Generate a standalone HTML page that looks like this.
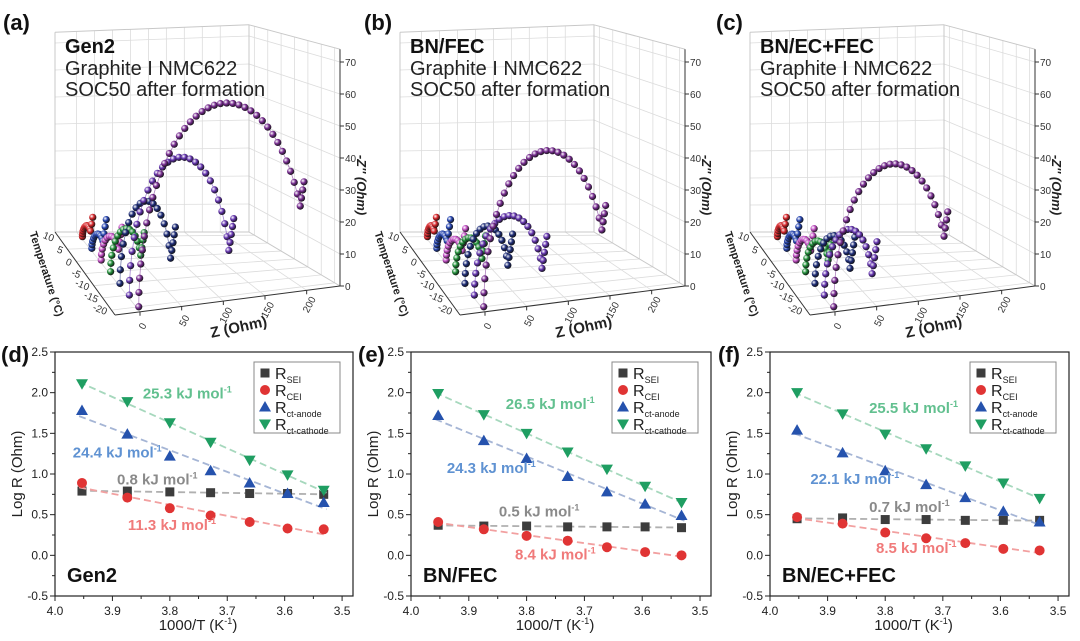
<!DOCTYPE html>
<html><head><meta charset="utf-8"><style>
html,body{margin:0;padding:0;background:#fff;}
svg{display:block;font-family:"Liberation Sans",Arial,sans-serif;}
</style></head><body>
<svg id="fig" width="1080" height="641" viewBox="0 0 1080 641">
<defs id="defs"></defs>
<rect width="1080" height="641" fill="#fff"/>
</svg>
<script>
// ===== Arrhenius data (bottom panels) =====
const invT = [3.953, 3.874, 3.800, 3.729, 3.661, 3.595, 3.532];
const xTicks = [4.0, 3.9, 3.8, 3.7, 3.6, 3.5];
const yTicks = [-0.5, 0.0, 0.5, 1.0, 1.5, 2.0, 2.5];
const gen2SEI = [0.79, 0.79, 0.78, 0.77, 0.76, 0.76, 0.75];
const gen2CEI = [0.89, 0.71, 0.58, 0.49, 0.41, 0.33, 0.32];
const gen2Anode = [1.78, 1.49, 1.22, 1.04, 0.89, 0.76, 0.65];
const gen2Cathode = [2.11, 1.89, 1.63, 1.39, 1.17, 0.99, 0.80];
const fecSEI = [0.37, 0.36, 0.36, 0.35, 0.35, 0.35, 0.34];
const fecCEI = [0.41, 0.32, 0.24, 0.18, 0.10, 0.04, 0.00];
const fecAnode = [1.72, 1.41, 1.19, 0.97, 0.78, 0.63, 0.49];
const fecCathode = [1.99, 1.73, 1.50, 1.27, 1.06, 0.85, 0.65];
const ecfSEI = [0.45, 0.46, 0.44, 0.44, 0.43, 0.43, 0.43];
const ecfCEI = [0.47, 0.39, 0.28, 0.21, 0.15, 0.08, 0.06];
const ecfAnode = [1.54, 1.26, 1.04, 0.87, 0.71, 0.54, 0.41];
const ecfCathode = [2.00, 1.74, 1.49, 1.31, 1.10, 0.89, 0.70];
const gen2Labels = ["25.3", "24.4", "0.8", "11.3"];
const fecLabels = ["26.5", "24.3", "0.5", "8.4"];
const ecfLabels = ["25.5", "22.1", "0.7", "8.5"];
// ===== Nyquist data (top panels): per temperature series =====
const temps = [10, 5, 0, -5, -10, -15, -20];
const gen2ArcD = [12, 16, 24, 40, 65, 125, 205];
const gen2ArcH = [4, 5, 8, 14, 26, 42, 60];
const fecArcD = [10, 15, 22, 35, 55, 85, 150];
const fecArcH = [4, 5, 7, 11, 18, 24, 46];
const ecfArcD = [10, 14, 20, 30, 45, 60, 140];
const ecfArcH = [4, 5, 7, 10, 15, 20, 42];
const arcEndDeg = [150, 150, 155, 160, 165, 165, 155];
const arcTail = [6, 7, 8, 8, 10, 10, 8];
const zTicks3d = [0, 10, 20, 30, 40, 50, 60, 70];
const xTicks3d = [0, 50, 100, 150, 200];

const NS = "http://www.w3.org/2000/svg";
const svg = document.getElementById("fig");
const defs = document.getElementById("defs");
function mk(tag, attrs, parent) {
  const e = document.createElementNS(NS, tag);
  for (const k in attrs) e.setAttribute(k, attrs[k]);
  (parent || svg).appendChild(e);
  return e;
}
function txt(s, x, y, attrs, parent) {
  const t = mk("text", Object.assign({x: x, y: y}, attrs), parent);
  t.textContent = s;
  return t;
}

// ---------- 3D panels ----------
const seriesColors = ["#d8262a", "#2544b0", "#c24fc4", "#22903a", "#1d2c78", "#6535b0", "#7a2e93"];
seriesColors.forEach((c, i) => {
  const g = mk("radialGradient", {id: "sph" + i, cx: "0.35", cy: "0.35", r: "0.7"}, defs);
  mk("stop", {offset: "0", "stop-color": "#ffffff", "stop-opacity": "0.85"}, g);
  mk("stop", {offset: "0.45", "stop-color": c}, g);
  mk("stop", {offset: "1", "stop-color": "#111"}, g);
});
const GA = [0, 232], GB = [194, 232], GC = [60, 315], GD = [285, 286];
const HA = 2.7, HB = 2.8, HC = 3.3, HD = 3.2;
const XMIN = -30, XMAX = 240, TBACK = 12, TFRONT = -22, ZTOP = 74;
function proj(L, X, T, Z) {
  const u = (X - XMIN) / (XMAX - XMIN), v = (TBACK - T) / (TBACK - TFRONT);
  const fx = (1 - v) * ((1 - u) * GA[0] + u * GB[0]) + v * ((1 - u) * GC[0] + u * GD[0]);
  const fy = (1 - v) * ((1 - u) * GA[1] + u * GB[1]) + v * ((1 - u) * GC[1] + u * GD[1]);
  const k = (1 - v) * ((1 - u) * HA + u * HB) + v * ((1 - u) * HC + u * HD);
  return [L + fx, fy - Z * k];
}
function line3(g, L, p1, p2, st) {
  const a = proj(L, p1[0], p1[1], p1[2]), b = proj(L, p2[0], p2[1], p2[2]);
  return mk("line", Object.assign({x1: a[0], y1: a[1], x2: b[0], y2: b[1]}, st), g);
}
function panel3d(L, letter, name, title, arcD, arcH, letterX) {
  const g = mk("g", {});
  
  
  const gs = {stroke: "#dcdcdc", "stroke-width": 0.8};
  for (let X = 0; X <= 200; X += 25) line3(g, L, [X, TBACK, 0], [X, TBACK, ZTOP], gs);
  for (let Z = 10; Z <= 70; Z += 10) line3(g, L, [XMIN, TBACK, Z], [XMAX, TBACK, Z], gs);
  for (let T = 10; T >= -20; T -= 5) line3(g, L, [XMAX, T, 0], [XMAX, T, ZTOP], gs);
  for (let Z = 10; Z <= 70; Z += 10) line3(g, L, [XMAX, TBACK, Z], [XMAX, TFRONT, Z], gs);
  for (let T = 10; T >= -20; T -= 5) line3(g, L, [XMIN, T, 0], [XMAX, T, 0], gs);
  for (let X = 0; X <= 200; X += 50) line3(g, L, [X, TBACK, 0], [X, TFRONT, 0], gs);
  const es = {stroke: "#c8c8c8", "stroke-width": 1};
  line3(g, L, [XMIN, TBACK, 0], [XMIN, TBACK, ZTOP], es);
  line3(g, L, [XMIN, TBACK, ZTOP], [XMAX, TBACK, ZTOP], es);
  line3(g, L, [XMAX, TBACK, ZTOP], [XMAX, TFRONT, ZTOP], es);
  line3(g, L, [XMAX, TBACK, 0], [XMAX, TBACK, ZTOP], es);
  line3(g, L, [XMIN, TBACK, 0], [XMAX, TBACK, 0], es);
  line3(g, L, [XMAX, TBACK, 0], [XMAX, TFRONT, 0], es);
  const ax = {stroke: "#333", "stroke-width": 1};
  line3(g, L, [XMIN, TFRONT, 0], [XMAX, TFRONT, 0], ax);
  line3(g, L, [XMIN, TBACK, 0], [XMIN, TFRONT, 0], ax);
  line3(g, L, [XMAX, TFRONT, 0], [XMAX, TFRONT, ZTOP], ax);
  zTicks3d.forEach(z => {
    const p = proj(L, XMAX, TFRONT, z);
    mk("line", {x1: p[0], y1: p[1], x2: p[0] + 4, y2: p[1], stroke: "#333"}, g);
    const t = txt(String(z), p[0] + 5, p[1] + 4, {"font-size": 10, fill: "#333", transform: "skewY(-10," + p[0] + "," + p[1] + ")"}, g);
    
    
  });
  xTicks3d.forEach(x => {
    const p = proj(L, x, TFRONT, 0);
    mk("line", {x1: p[0], y1: p[1], x2: p[0], y2: p[1] + 4, stroke: "#333"}, g);
    const t = txt(String(x), p[0] + 2, p[1] + 18, {"font-size": 10, fill: "#333", "text-anchor": "middle", transform: "rotate(-62," + (p[0] + 2) + "," + (p[1] + 14) + ")"}, g);
    
    
  });
  temps.forEach(T => {
    const p = proj(L, XMIN, T, 0);
    const t = txt(String(T), p[0] - 6, p[1] + 5, {"font-size": 10, fill: "#333", "text-anchor": "end", transform: "rotate(22," + (p[0] - 6) + "," + (p[1] + 5) + ")"}, g);
    
    
  });
  const pz = proj(L, 110, TFRONT, 0);
  const xt = txt("Z (Ohm)", pz[0] + 8, pz[1] + 32, {"font-size": 15, "font-weight": "bold", "text-anchor": "middle", fill: "#222", transform: "rotate(-12," + (pz[0] + 8) + "," + (pz[1] + 32) + ")"}, g);
  
  
  const tt = txt("Temperature (°C)", L - 12, 275, {"font-size": 11, "font-weight": "bold", "text-anchor": "middle", fill: "#222", transform: "rotate(72," + (L - 12) + ",275)"}, g);
  
  
  const zt = txt("-Z'' (Ohm)", L + 302, 185, {"font-size": 13, "font-weight": "bold", "font-style": "italic", "text-anchor": "middle", fill: "#222", transform: "rotate(90," + (L + 302) + ",185)"}, g);
  
  
  temps.forEach((T, i) => {
    const sg = mk("g", {}, g);
    
    
    const D = arcD[i], H = arcH[i], th = arcEndDeg[i] * Math.PI / 180;
    const n = Math.round(8 + D / 7);
    const pts = [];
    for (let j = 0; j <= n; j++) {
      const a = th * j / n;
      pts.push([3 + D / 2 * (1 - Math.cos(a)), H * Math.sin(a)]);
    }
    const last = pts[pts.length - 1];
    const nt = Math.round(arcTail[i] / 2.5);
    for (let j = 1; j <= nt; j++) pts.push([last[0] + 1.5 * j, last[1] + 2.5 * j]);
    const sp = pts.map(p => proj(L, p[0], T, p[1]));
    mk("polyline", {points: sp.map(p => p.join(",")).join(" "), fill: "none", stroke: seriesColors[i], "stroke-width": 0.8, opacity: 0.6}, sg);
    sp.forEach(p => mk("circle", {cx: p[0], cy: p[1], r: 3.6, fill: "url(#sph" + i + ")"}, sg));
  });
  const lt = txt("(" + letter + ")", letterX, 30, {"font-size": 22, "font-weight": "bold", fill: "#111"});
  
  
  const n1 = txt(name, L + 10, 53, {"font-size": 20, "font-weight": "bold", fill: "#111"});
  
  
  const n2 = txt("Graphite I NMC622", L + 10, 75, {"font-size": 20, fill: "#222"});
  
  
  const n3 = txt("SOC50 after formation", L + 10, 96, {"font-size": 20, fill: "#222"});
  
  
}
panel3d(55, "a", "Gen2", "", gen2ArcD, gen2ArcH, 3);
panel3d(400, "b", "BN/FEC", "", fecArcD, fecArcH, 364);
panel3d(750, "c", "BN/EC+FEC", "", ecfArcD, ecfArcH, 716);

// ---------- Arrhenius panels ----------
const TOP = 352, BOT = 596, XD0 = 4.0, XD1 = 3.481, YD0 = -0.5, YD1 = 2.5;
function marker(g, type, x, y, color) {
  let e;
  if (type === "sq") e = mk("rect", {x: x - 4.5, y: y - 4.5, width: 9, height: 9, fill: color}, g);
  else if (type === "ci") e = mk("circle", {cx: x, cy: y, r: 5, fill: color}, g);
  else if (type === "up") e = mk("polygon", {points: `${x},${y - 6} ${x - 6},${y + 4.5} ${x + 6},${y + 4.5}`, fill: color}, g);
  else e = mk("polygon", {points: `${x - 6},${y - 4.5} ${x + 6},${y - 4.5} ${x},${y + 6}`, fill: color}, g);
  return e;
}
const types = ["sq", "ci", "up", "dn"];
const mColors = ["#3d3d3d", "#e03434", "#2552ad", "#1f9e62"];
const lColors = ["#b0b0b0", "#f2a0a0", "#a5b5d5", "#a6d8bd"];
const aColors = ["#8a8a8a", "#f07a7a", "#5f92d2", "#62c08f"];
const legNames = [["R", "SEI"], ["R", "CEI"], ["R", "ct-anode"], ["R", "ct-cathode"]];
function arrPanel(left, right, letter, letterX, name, series, labels, labPos) {
  const g = mk("g", {});
  
  
  const sx = v => left + (XD0 - v) / (XD0 - XD1) * (right - left);
  const sy = v => BOT - (v - YD0) / (YD1 - YD0) * (BOT - TOP);
  const fr = mk("rect", {x: left, y: TOP, width: right - left, height: BOT - TOP, fill: "none", stroke: "#222", "stroke-width": 1.2}, g);
  
  
  yTicks.forEach((v, i) => {
    const y = sy(v);
    mk("line", {x1: left - 5, y1: y, x2: left, y2: y, stroke: "#222"}, g);
    if (i < yTicks.length - 1) mk("line", {x1: left - 3, y1: sy(v + 0.25), x2: left, y2: sy(v + 0.25), stroke: "#222"}, g);
    const t = txt(v.toFixed(1), left - 7, y + 4, {"font-size": 12, "text-anchor": "end", fill: "#222"}, g);
    
    
  });
  xTicks.forEach((v, i) => {
    const x = sx(v);
    mk("line", {x1: x, y1: BOT, x2: x, y2: BOT + 5, stroke: "#222"}, g);
    if (i < xTicks.length - 1) mk("line", {x1: sx(v - 0.05), y1: BOT, x2: sx(v - 0.05), y2: BOT + 3, stroke: "#222"}, g);
    const t = txt(v.toFixed(1), x, BOT + 19, {"font-size": 12, "text-anchor": "middle", fill: "#222"}, g);
    
    
  });
  const xt = txt("1000/T (K", (left + right) / 2 - 6, 630, {"font-size": 15, "text-anchor": "middle", fill: "#222"}, g);
  const sup = mk("tspan", {dy: -6, "font-size": 9}, xt); sup.textContent = "-1";
  const cl = mk("tspan", {dy: 6}, xt); cl.textContent = ")";
  
  
  const yt = txt("Log R (Ohm)", left - 33, 474, {"font-size": 15, "text-anchor": "middle", fill: "#222", transform: `rotate(-90,${left - 33},474)`}, g);
  
  
  series.forEach((ys, k) => {
    const n = invT.length;
    const mx = invT.reduce((a, b) => a + b) / n, my = ys.reduce((a, b) => a + b) / n;
    let sxy = 0, sxx = 0;
    invT.forEach((x, j) => { sxy += (x - mx) * (ys[j] - my); sxx += (x - mx) * (x - mx); });
    const m = sxy / sxx, b = my - m * mx;
    const xa = invT[0] + 0.005, xb = invT[n - 1] - 0.005;
    const fl = mk("line", {x1: sx(xa), y1: sy(m * xa + b), x2: sx(xb), y2: sy(m * xb + b), stroke: lColors[k], "stroke-width": 1.8, "stroke-dasharray": "7,4"}, g);
    
    
    ys.forEach((v, j) => {
      const mm = marker(g, types[k], sx(invT[j]), sy(v), mColors[k]);
      
      
    });
  });
  const aIdx = [3, 2, 0, 1];
  labels.forEach((s, i) => {
    const t = txt(s + " kJ mol", sx(labPos[i][0]), sy(labPos[i][1]), {"font-size": 15, "font-weight": "bold", fill: aColors[aIdx[i]]}, g);
    const sp = mk("tspan", {dy: -6, "font-size": 9}, t); sp.textContent = "-1";
    
    
  });
  const lx = right - 99, ly = 362;
  const lg = mk("g", {}, g);
  
  
  mk("rect", {x: lx, y: ly, width: 86, height: 71, fill: "#fff", stroke: "#888", "stroke-width": 1}, lg);
  legNames.forEach((nm, k) => {
    const y = ly + 11 + k * 17;
    const e = mk("g", {}, lg);
    
    
    marker(e, types[k], lx + 11, y, mColors[k]);
    const t = txt(nm[0], lx + 21, y + 6, {"font-size": 16, fill: "#222"}, e);
    const s = mk("tspan", {dy: 4, "font-size": 9}, t); s.textContent = nm[1];
  });
  const nl = txt(name, left + 12, 582, {"font-size": 20, "font-weight": "bold", fill: "#111"}, g);
  
  
  const pl = txt("(" + letter + ")", letterX, 362, {"font-size": 22, "font-weight": "bold", fill: "#111"});
  
  
}
arrPanel(55, 353, "d", 1, "Gen2", [gen2SEI, gen2CEI, gen2Anode, gen2Cathode], gen2Labels,
  [[3.847, 1.93], [3.969, 1.2], [3.892, 0.87], [3.873, 0.31]]);
arrPanel(411, 711, "e", 358, "BN/FEC", [fecSEI, fecCEI, fecAnode, fecCathode], fecLabels,
  [[3.836, 1.80], [3.938, 1.01], [3.848, 0.48], [3.82, -0.05]]);
arrPanel(770, 1069, "f", 718, "BN/EC+FEC", [ecfSEI, ecfCEI, ecfAnode, ecfCathode], ecfLabels,
  [[3.828, 1.75], [3.93, 0.88], [3.828, 0.53], [3.816, 0.03]]);
</script>
</body></html>
